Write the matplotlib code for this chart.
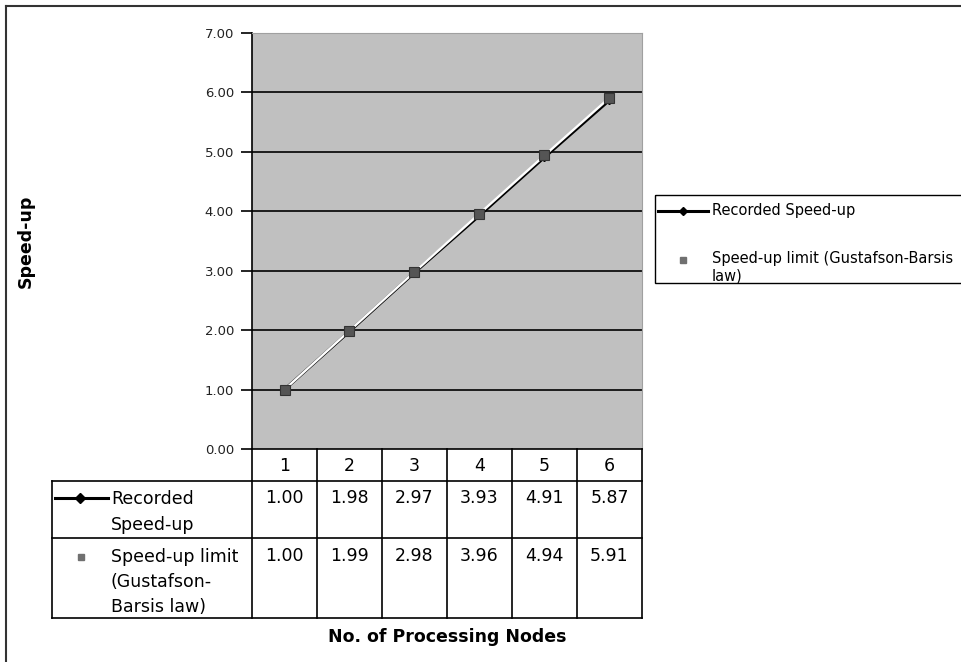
import matplotlib.pyplot as plt
from matplotlib.patches import Rectangle

plt.rcParams['font.family'] = ['DejaVu Sans']

nodes = [1, 2, 3, 4, 5, 6]
recorded = [1.00, 1.98, 2.97, 3.93, 4.91, 5.87]
limit = [1.00, 1.99, 2.98, 3.96, 4.94, 5.91]
yticks = [0, 1, 2, 3, 4, 5, 6, 7]

W, H = 962, 662
fig = plt.figure(figsize=(W / 100, H / 100), dpi=100)

# overlay axes in pixel units for table, legend and frame
ov = fig.add_axes([0, 0, 1, 1], zorder=5)
ov.set_xlim(0, W)
ov.set_ylim(H, 0)
ov.axis('off')
ov.patch.set_alpha(0)

# plot area
x0, x1, ytop, ybot = 252, 642, 33, 449
ax = fig.add_axes([x0 / W, (H - ybot) / H, (x1 - x0) / W, (ybot - ytop) / H])
ax.set_facecolor('#c0c0c0')
ax.set_xlim(0.5, 6.5)
ax.set_ylim(0, 7)
ax.set_yticks(yticks)
ax.set_yticklabels([f'{v:.2f}' for v in yticks], fontsize=9.5, color='#222222')
ax.set_xticks([])
for v in yticks[1:-1]:
    ax.axhline(v, color='black', lw=1.2, zorder=1)
for s in ['top', 'right']:
    ax.spines[s].set_color('#a0a0a0')
ax.spines['bottom'].set_visible(False)
ax.spines['left'].set_linewidth(1.2)
ax.tick_params(axis='y', length=8, width=1.2, pad=5)

ax.plot(nodes, recorded, color='black', lw=2.2, marker='D', ms=4,
        mfc='black', mec='black', zorder=3)
ax.plot(nodes, limit, color='white', lw=1.7, marker='s', ms=6.5,
        mfc='#555555', mec='#333333', mew=0.8, zorder=4)

ax.set_ylabel('Speed-up', fontsize=12.5, fontweight='bold', labelpad=0)
ax.yaxis.set_label_coords(-(252 - 35) / 390, 0.5)

# data table under the plot
col_w = (x1 - x0) / len(nodes)
tl = 52
rows = [481, 538, 618]
fs = 12.5
lk = dict(color='black', lw=1.2)
ov.plot([x0, x1], [ybot, ybot], **lk)
for r in rows:
    ov.plot([tl, x1], [r, r], **lk)
ov.plot([tl, tl], [rows[0], rows[-1]], **lk)
for i in range(len(nodes) + 1):
    xx = x0 + i * col_w
    ov.plot([xx, xx], [ybot, rows[-1]], **lk)
for i, n in enumerate(nodes):
    xc = x0 + (i + 0.5) * col_w
    ov.text(xc, 466, str(n), ha='center', va='center', fontsize=fs)
    ov.text(xc, 498, f'{recorded[i]:.2f}', ha='center', va='center', fontsize=fs)
    ov.text(xc, 556, f'{limit[i]:.2f}', ha='center', va='center', fontsize=fs)

ov.plot([55, 108], [498, 498], color='black', lw=2.2)
ov.plot([80], [498], marker='D', ms=5, color='black')
ov.text(111, 499, 'Recorded', ha='left', va='center', fontsize=fs)
ov.text(111, 525, 'Speed-up', ha='left', va='center', fontsize=fs)
ov.plot([81], [557], marker='s', ms=5, mfc='#707070', mec='#707070')
ov.text(111, 557, 'Speed-up limit', ha='left', va='center', fontsize=fs)
ov.text(111, 582, '(Gustafson-', ha='left', va='center', fontsize=fs)
ov.text(111, 607, 'Barsis law)', ha='left', va='center', fontsize=fs)

ov.text((x0 + x1) / 2, 637, 'No. of Processing Nodes', ha='center', va='center',
        fontsize=12.5, fontweight='bold')

# legend box
ov.add_patch(Rectangle((655, 195), 320, 88, fill=False, ec='black', lw=1.0,
                       clip_on=False))
ov.plot([658, 708], [211, 211], color='black', lw=2.2)
ov.plot([683], [211], marker='D', ms=4, color='black')
ov.text(712, 211, 'Recorded Speed-up', ha='left', va='center', fontsize=10.5)
ov.plot([683], [260], marker='s', ms=5, mfc='#707070', mec='#707070')
ov.text(712, 259, 'Speed-up limit (Gustafson-Barsis', ha='left', va='center',
        fontsize=10.5)
ov.text(712, 276, 'law)', ha='left', va='center', fontsize=10.5)

# outer frame (left and top edges)
ov.plot([6, 6], [6, H], color='#333333', lw=1.5)
ov.plot([6, W], [6, 6], color='#333333', lw=1.5)

fig.savefig('out.png', dpi=100)
